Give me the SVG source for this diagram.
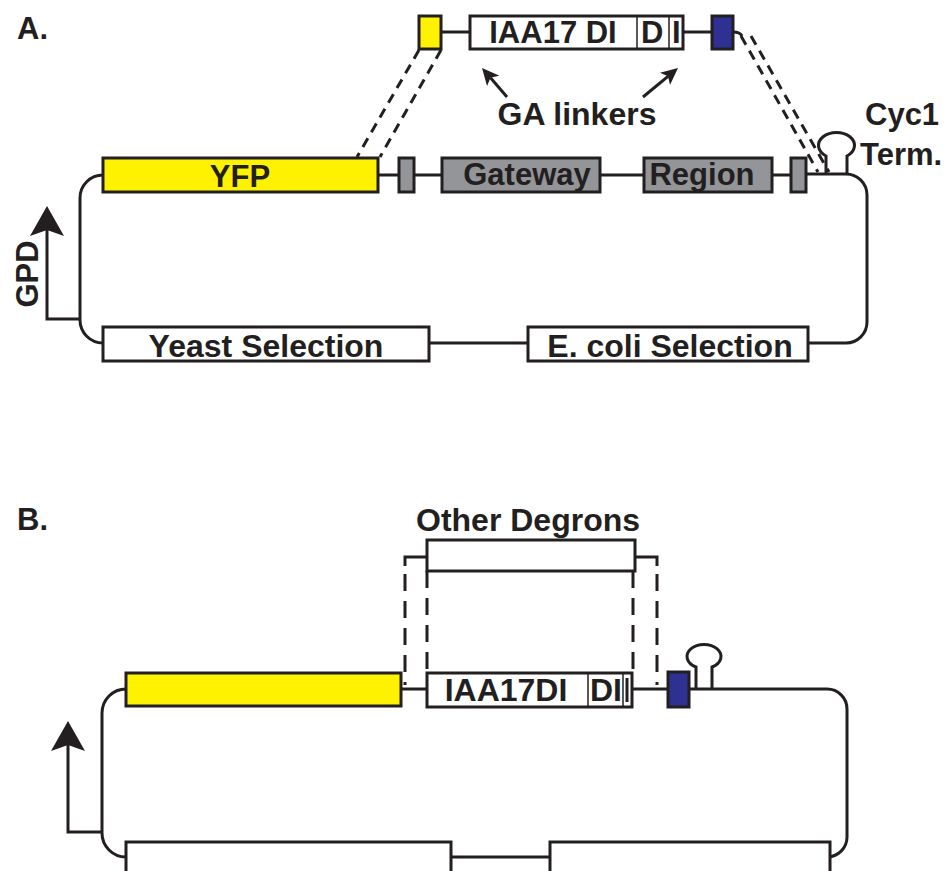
<svg xmlns="http://www.w3.org/2000/svg" width="950" height="871" viewBox="0 0 950 871">
<style>
text{font-family:"Liberation Sans",Arial,sans-serif;font-weight:bold;fill:#231f20}
.ln{fill:none;stroke:#231f20;stroke-width:3}
.dash{fill:none;stroke:#231f20;stroke-width:3;stroke-dasharray:10 7}
.vdash{fill:none;stroke:#231f20;stroke-width:3;stroke-dasharray:17 10}
.thin{stroke:#231f20;stroke-width:1.5}
.box{stroke:#231f20;stroke-width:3}
.yel{fill:#fff200}.gry{fill:#939598}.blu{fill:#2e3192}.wht{fill:#fff}
.big{font-size:32px}.mid{font-size:31px}.lab{font-size:31px}
</style>
<defs>
<marker id="prom" viewBox="0 0 30 34" markerWidth="30" markerHeight="34" refX="6" refY="17" orient="auto" markerUnits="userSpaceOnUse">
<path d="M0,0 L30,17 L0,34 L6,17 Z" fill="#231f20"/>
</marker>
<marker id="ga" viewBox="0 0 17 16" markerWidth="17" markerHeight="16" refX="4" refY="8" orient="auto" markerUnits="userSpaceOnUse">
<path d="M0,0 L17,8 L0,16 L4,8 Z" fill="#231f20"/>
</marker>
</defs>
<rect width="950" height="871" fill="#fff"/>
<text class="lab" x="17" y="39">A.</text>
<text class="lab" x="17" y="530">B.</text>

<g id="connectors">
<!-- Panel A backbone -->
<path class="ln" d="M103,175 A23,23 0 0 0 80,198 V320 A23,23 0 0 0 103,343"/>
<path class="ln" d="M378,175 H399 M414,175 H442 M600,175 H644 M772,175 H791 M806,174 H846 A21,21 0 0 1 867,195 V322 A21,21 0 0 1 846,343 H808"/>
<path class="ln" d="M429,343 H528"/>
<path class="ln" d="M80,319 H47 V230" marker-end="url(#prom)"/>
<!-- Panel A insert -->
<path class="ln" d="M441,32 H470 M683,32 H712 M733,32 Q740,32 742,36"/>
<path class="dash" d="M419,50 L357,157 M441,50 L380,157"/>
<path class="dash" d="M741,36 L818,172 M751,36 L829,172"/>
<path class="ln" d="M507,97 L490.5,77.8" marker-end="url(#ga)"/>
<path class="ln" d="M643,97 L668,76.3" marker-end="url(#ga)"/>
<!-- Panel B backbone -->
<path class="ln" d="M126,689 A24,24 0 0 0 102,713 V833 A24,24 0 0 0 126,857"/>
<path class="ln" d="M401,689 H427 M632,689 H668 M689,689 H827 A20,20 0 0 1 847,709 V837 A20,20 0 0 1 827,857 H830"/>
<path class="ln" d="M451,857 H550"/>
<path class="ln" d="M102,832 H68 V745" marker-end="url(#prom)"/>
<!-- Panel B other degrons -->
<path class="ln" d="M405,566 V557 H427 M635,557 H657 V566"/>
<path class="vdash" d="M405,574 V685 M657,574 V685"/>
<path class="vdash" d="M427,571 V673 M633,571 V673"/>
</g>

<g id="hairpinA"><path class="ln" d="M826,174 V156 A18,13 0 1 1 847,156 V174"/></g>
<g id="hairpinB"><path class="ln" d="M696,689 V667 A17,12 0 1 1 712,667 V689"/></g>

<g id="yfpA"><rect class="box yel" x="103" y="158" width="275" height="34"/><text class="mid" x="240" y="187" text-anchor="middle">YFP</text></g>
<g id="linkA1"><rect class="box gry" x="399" y="158" width="15" height="34"/></g>
<g id="gateway"><rect class="box gry" x="442" y="158" width="158" height="34"/><text class="mid" x="527" y="185" text-anchor="middle">Gateway</text></g>
<g id="region"><rect class="box gry" x="644" y="158" width="128" height="34"/><text class="mid" x="702" y="185" text-anchor="middle">Region</text></g>
<g id="linkA2"><rect class="box gry" x="791" y="158" width="15" height="34"/></g>
<g id="yeastA"><rect class="box wht" x="103" y="327" width="326" height="34"/><text class="big" x="266" y="357" text-anchor="middle">Yeast Selection</text></g>
<g id="ecoliA"><rect class="box wht" x="528" y="327" width="280" height="34"/><text class="big" x="670" y="357" text-anchor="middle">E. coli Selection</text></g>
<g id="gpd"><text class="mid" transform="translate(38,274) rotate(-90)" text-anchor="middle">GPD</text></g>
<g id="cyc1"><text class="mid" x="865" y="125">Cyc1</text><text class="mid" x="860" y="165">Term.</text></g>

<g id="yfpTop"><rect class="box yel" x="419" y="16" width="22" height="33"/></g>
<g id="iaa17A"><rect class="box wht" x="470" y="16" width="213" height="33"/>
<line class="thin" x1="637" y1="16" x2="637" y2="49"/><line class="thin" x1="669" y1="16" x2="669" y2="49"/>
<text class="mid" x="553" y="43" text-anchor="middle">IAA17 DI</text>
<text class="mid" y="43"><tspan x="641">D</tspan><tspan x="672">I</tspan></text></g>
<g id="blueTop"><rect class="box blu" x="712" y="16" width="21" height="33"/></g>
<g id="galinkers"><text class="big" x="577" y="125" text-anchor="middle">GA linkers</text></g>

<g id="otherDegrons"><text class="big" x="528" y="531" text-anchor="middle">Other Degrons</text><rect class="box wht" x="427" y="540" width="208" height="31"/></g>
<g id="yfpB"><rect class="box yel" x="126" y="673" width="275" height="33"/></g>
<g id="iaa17B"><rect class="box wht" x="427" y="673" width="205" height="34"/>
<line class="thin" x1="588" y1="673" x2="588" y2="707"/><line class="thin" x1="623" y1="673" x2="623" y2="707"/>
<line x1="627" y1="678" x2="627" y2="702" stroke="#231f20" stroke-width="3"/>
<text class="big" x="506" y="701" text-anchor="middle">IAA17DI</text>
<text class="big" x="590" y="701">DI</text></g>
<g id="blueB"><rect class="box blu" x="668" y="672" width="21" height="35"/></g>
<g id="yeastB"><rect class="box wht" x="126" y="842" width="325" height="40"/></g>
<g id="ecoliB"><rect class="box wht" x="550" y="842" width="280" height="40"/></g>
</svg>
